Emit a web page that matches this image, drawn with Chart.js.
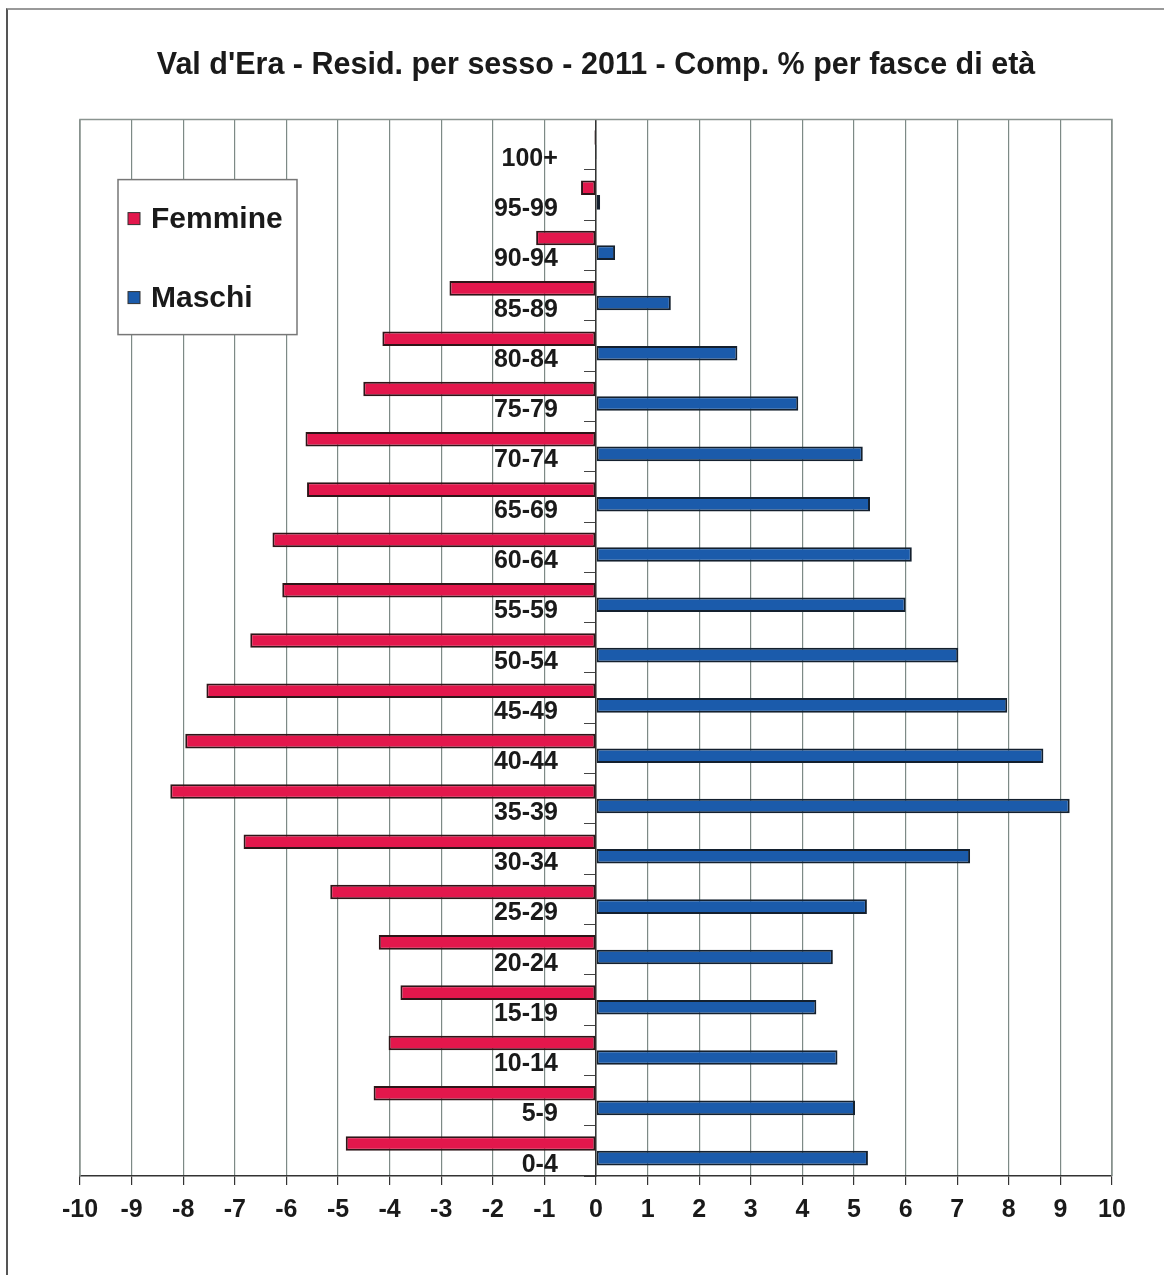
<!DOCTYPE html>
<html lang="it">
<head>
  <meta charset="UTF-8">
  <title>Val d'Era - Resid. per sesso - 2011</title>
  <script src="https://cdn.jsdelivr.net/npm/chart.js"></script>
  <style>
    body { margin: 0; background: #fff; }
    #wrap { position: relative; width: 1164px; height: 1275px; }
    #frame { position: absolute; left: 6px; top: 8px; right: 0; bottom: 0; border-left: 2px solid #555; border-top: 2px solid #999; pointer-events: none; }
  </style>
</head>
<body>
  <div id="wrap">
    <canvas id="pyramid" width="1164" height="1275"></canvas>
    <div id="frame"></div>
  </div>

  <script>
    // age classes, bottom to top
    const ageGroups = ['0-4', '5-9', '10-14', '15-19', '20-24', '25-29', '30-34', '35-39', '40-44', '45-49',
      '50-54', '55-59', '60-64', '65-69', '70-74', '75-79', '80-84', '85-89', '90-94', '95-99', '100+'];
    // % of residents, women drawn on the negative side
    const femmine = [-4.85, -4.31, -4.02, -3.79, -4.21, -5.15, -6.83, -8.25, -7.96, -7.55,
      -6.70, -6.08, -6.27, -5.60, -5.63, -4.51, -4.14, -2.84, -1.16, -0.29, -0.03];
    const maschi = [5.27, 5.02, 4.68, 4.27, 4.59, 5.25, 7.25, 9.18, 8.67, 7.97,
      7.02, 6.00, 6.12, 5.31, 5.17, 3.92, 2.74, 1.45, 0.37, 0.08, 0.02];
    const xMin = -10, xMax = 10, xStep = 1;

    const FONT = "'Liberation Sans', Arial, sans-serif";
    const labelAxisAt = -0.74;   // age labels sit a little left of the zero line

    // thin grey frame round the plot area
    const areaBorder = {
      id: 'areaBorder',
      beforeDatasetsDraw(chart) {
        const { ctx, chartArea: a } = chart;
        ctx.save();
        ctx.strokeStyle = '#8a9490';
        ctx.lineWidth = 1.5;
        ctx.beginPath();
        ctx.moveTo(a.left, a.bottom);
        ctx.lineTo(a.left, a.top);
        ctx.lineTo(a.right, a.top);
        ctx.lineTo(a.right, a.bottom);
        ctx.stroke();
        ctx.restore();
      }
    };

    // boxed legend inside the plot, top left
    const boxLegend = {
      id: 'boxLegend',
      afterDraw(chart) {
        const { ctx, chartArea: a } = chart;
        const x = a.left + 38, y = a.top + 60, w = 179, h = 155;
        ctx.save();
        ctx.fillStyle = '#fff';
        ctx.fillRect(x, y, w, h);
        ctx.strokeStyle = '#777';
        ctx.lineWidth = 1.5;
        ctx.strokeRect(x, y, w, h);
        ctx.font = 'bold 30px ' + FONT;
        ctx.textBaseline = 'middle';
        chart.data.datasets.forEach((ds, i) => {
          const cy = y + 39 + i * 79;
          ctx.fillStyle = ds.backgroundColor;
          ctx.fillRect(x + 10, cy - 6, 12, 12);
          ctx.strokeStyle = '#333';
          ctx.lineWidth = 1;
          ctx.strokeRect(x + 10, cy - 6, 12, 12);
          ctx.fillStyle = '#1a1a1a';
          ctx.fillText(ds.label, x + 33, cy + 1);
        });
        ctx.restore();
      }
    };

    new Chart(document.getElementById('pyramid'), {
      type: 'bar',
      data: {
        labels: ageGroups,
        datasets: [
          { label: 'Femmine', data: femmine, backgroundColor: '#e3174c', borderColor: '#2e1518', borderWidth: 2, borderSkipped: false },
          { label: 'Maschi', data: maschi, backgroundColor: '#1b5bab', borderColor: '#14202e', borderWidth: 2, borderSkipped: false }
        ]
      },
      options: {
        indexAxis: 'y',
        responsive: false,
        animation: false,
        layout: { padding: { left: 80, right: 52, top: 0, bottom: 40 } },
        datasets: { bar: { categoryPercentage: 0.58, barPercentage: 1 } },
        plugins: {
          legend: { display: false },
          tooltip: { enabled: false },
          title: {
            display: true,
            text: "Val d'Era - Resid. per sesso - 2011 - Comp. % per fasce di età",
            color: '#1a1a1a',
            font: { family: FONT, size: 30.5, weight: 'bold' },
            padding: { top: 47, bottom: 36 }
          }
        },
        scales: {
          x: {
            min: xMin, max: xMax,
            ticks: { stepSize: xStep, color: '#1a1a1a', padding: 10, font: { family: FONT, size: 25, weight: 'bold' } },
            grid: { color: '#7d8a86', lineWidth: 1.2, tickLength: 9, tickColor: '#333' },
            border: { color: '#333', width: 1.5 }
          },
          // age labels only
          y: {
            type: 'category',
            reverse: true,
            offset: true,
            position: { x: labelAxisAt },
            z: 1,
            ticks: { color: '#1a1a1a', padding: 0, labelOffset: 14, font: { family: FONT, size: 25, weight: 'bold' } },
            grid: { display: false, offset: true },
            border: { display: false }
          },
          // zero line with small ticks between classes
          y2: {
            type: 'category',
            axis: 'y',
            reverse: true,
            offset: true,
            position: { x: 0 },
            z: 1,
            ticks: { display: false },
            grid: { drawOnChartArea: false, offset: true, tickLength: 11, tickColor: '#444' },
            border: { color: '#333', width: 1.5 }
          }
        }
      },
      plugins: [areaBorder, boxLegend]
    });
  </script>
</body>
</html>
